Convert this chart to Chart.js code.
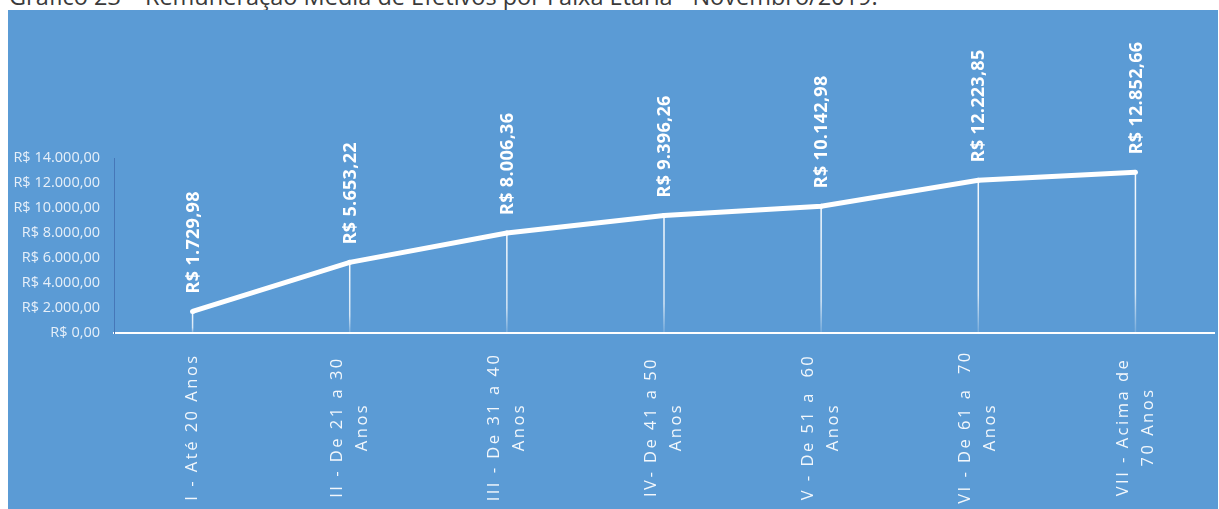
<!DOCTYPE html>
<html>
<head>
<meta charset="utf-8">
<script src="https://cdn.jsdelivr.net/npm/chart.js@4.4.1/dist/chart.umd.min.js"></script>
<style>
  html, body { margin: 0; padding: 0; background: #fff; overflow: hidden; }
  body { width: 1219px; height: 509px; position: relative; }
  #titulo {
    position: absolute; left: 9px; top: -18px;
    font-family: "Open Sans", sans-serif; font-size: 23.5px; line-height: 28px;
    color: #3a3a3a; white-space: nowrap;
  }
  #caixa {
    position: absolute; left: 8px; top: 10px; width: 1210px; height: 499px;
    background: #5b9bd5;
  }
</style>
</head>
<body>
<div id="titulo">Gráfico 23 – Remuneração Média de Efetivos por Faixa Etária - Novembro/2019.</div>
<div id="caixa"><canvas id="myChart" width="1210" height="499"></canvas></div>
<script>
// faixas etarias (eixo x)
var faixas = [
    ['I - Até 20 Anos'],
    ['II - De 21 a 30', 'Anos'],
    ['III - De 31 a 40', 'Anos'],
    ['IV- De 41 a 50', 'Anos'],
    ['V - De 51 a  60', 'Anos'],
    ['VI - De 61 a  70', 'Anos'],
    ['VII - Acima de', '70 Anos']
];
// remuneracao media (R$)
var remuneracao = [1729.98, 5653.22, 8006.36, 9396.26, 10142.98, 12223.85, 12852.66];
// marcas do eixo y
var yMin = 0;
var yMax = 14000;
var yPasso = 2000;

function formatReal(v) {
    var partes = v.toFixed(2).split('.');
    var inteiro = partes[0].replace(/\B(?=(\d{3})+(?!\d))/g, '.');
    return 'R$ ' + inteiro + ',' + partes[1];
}

//linhas verticais de cada ponto ate o eixo
var linhasQueda = {
    id: 'linhasQueda',
    beforeDatasetsDraw: function(chart) {
        var ctx = chart.ctx;
        var meta = chart.getDatasetMeta(0);
        var base = chart.scales.y.getPixelForValue(0);
        ctx.save();
        meta.data.forEach(function(pt) {
            var grad = ctx.createLinearGradient(0, pt.y, 0, base);
            grad.addColorStop(0, 'rgba(255,255,255,0.95)');
            grad.addColorStop(0.75, 'rgba(255,255,255,0.75)');
            grad.addColorStop(1, 'rgba(255,255,255,0.15)');
            ctx.strokeStyle = grad;
            ctx.lineWidth = 1.5;
            ctx.beginPath();
            ctx.moveTo(pt.x, pt.y);
            ctx.lineTo(pt.x, base);
            ctx.stroke();
        });
        ctx.restore();
    }
};

//rotulos de valores acima dos pontos
var rotulosValor = {
    id: 'rotulosValor',
    afterDatasetsDraw: function(chart) {
        var ctx = chart.ctx;
        var meta = chart.getDatasetMeta(0);
        ctx.save();
        ctx.fillStyle = '#ffffff';
        ctx.font = 'bold 18px "Open Sans"';
        ctx.letterSpacing = '0.3px';
        ctx.textAlign = 'left';
        ctx.textBaseline = 'middle';
        meta.data.forEach(function(pt, i) {
            ctx.save();
            ctx.translate(pt.x, pt.y - 18);
            ctx.rotate(-Math.PI / 2);
            ctx.fillText(formatReal(remuneracao[i]), 0, 1);
            ctx.restore();
        });
        ctx.restore();
    }
};

//rotulos do eixo x, giradas e centralizadas
var rotulosFaixa = {
    id: 'rotulosFaixa',
    afterDraw: function(chart) {
        var ctx = chart.ctx;
        var xs = chart.scales.x;
        var alturaLinha = 25;
        ctx.save();
        ctx.fillStyle = 'rgba(255,255,255,0.92)';
        ctx.font = '16.5px "Open Sans"';
        ctx.letterSpacing = '2.5px';
        ctx.textAlign = 'center';
        ctx.textBaseline = 'middle';
        faixas.forEach(function(linhas, i) {
            var x = xs.getPixelForValue(i);
            ctx.save();
            ctx.translate(x, 417);
            ctx.rotate(-Math.PI / 2);
            for (var k = 0; k < linhas.length; k++) {
                var off = (k - (linhas.length - 1) / 2) * alturaLinha;
                ctx.fillText(linhas[k], 0, off);
            }
            ctx.restore();
        });
        ctx.restore();
    }
};

var ctx = document.getElementById('myChart').getContext('2d');
var myLineChart = new Chart(ctx, {
    type: 'line',
    data: {
        labels: faixas,
        datasets: [{
            data: remuneracao,
            borderColor: '#ffffff',
            borderWidth: 5,
            pointRadius: 2.5,
            pointBackgroundColor: '#ffffff',
            pointBorderWidth: 0,
            tension: 0,
            clip: false
        }]
    },
    options: {
        responsive: false,
        animation: false,
        events: [],
        layout: { padding: { top: 148, right: 4, left: 0, bottom: 0 } },
        plugins: {
            legend: { display: false },
            tooltip: { enabled: false }
        },
        scales: {
            x: {
                offset: true,
                grid: { display: false, drawTicks: false },
                border: { display: true, color: '#ffffff', width: 2 },
                ticks: { display: false },
                afterFit: function(scale) { scale.height = 176; }
            },
            y: {
                min: yMin,
                max: yMax,
                grid: { display: false, drawTicks: false },
                border: { display: true, color: '#4677b8', width: 1 },
                ticks: {
                    stepSize: yPasso,
                    padding: 14,
                    color: 'rgba(242,246,252,0.92)',
                    font: { family: 'Open Sans', size: 14.5 },
                    callback: function(v) { return formatReal(v); }
                },
                afterFit: function(scale) { scale.width = 106; }
            }
        }
    },
    plugins: [linhasQueda, rotulosValor, rotulosFaixa]
});
</script>
</body>
</html>
